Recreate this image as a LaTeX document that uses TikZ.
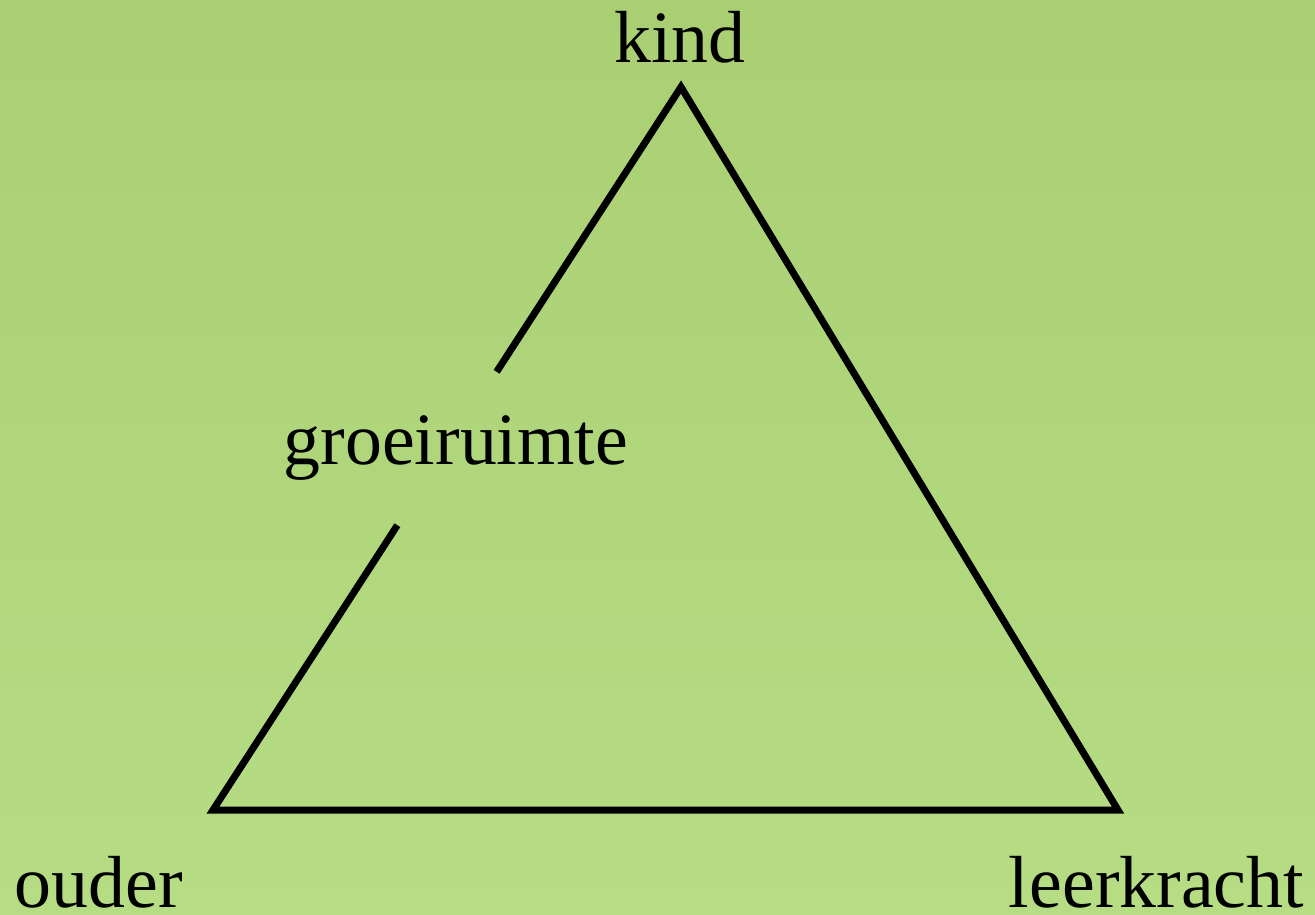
\documentclass[tikz,border=0pt]{standalone}
\usepackage{fontspec}
\setmainfont{Liberation Serif}
\usepackage{tikz}
\usetikzlibrary{positioning, calc}
\definecolor{bgtop}{HTML}{AACF73}
\definecolor{bgbottom}{HTML}{B6DD84}

\tikzset{
  edge/.style={draw=black, line width=2pt},
  role/.style={font=\fontsize{21}{25}\selectfont, inner sep=0pt, anchor=base},
  gap/.style={font=\fontsize{21}{25}\selectfont, inner sep=0pt, minimum height=1.52cm}
}

\begin{document}
\begin{tikzpicture}
% background
\shade[top color=bgtop, bottom color=bgbottom] (0,0) rectangle (13.15,-9.14);
\useasboundingbox (0,0) rectangle (13.15,-9.14);

% corners of the triangle
\coordinate (top)   at (6.81,-0.87);
\coordinate (right) at (11.18,-8.10);
\coordinate (left)  at (2.13,-8.10);

% labels
\node[role] (kind)       at (6.80,-0.62)  {kind};
\node[role] (ouder)      at (0.99,-9.07)  {ouder};
\node[role] (leerkracht) at (11.565,-9.07) {leerkracht};
\path (top) -- node[gap, pos=0.5] (groei) {\hspace*{0.18cm}groeiruimte} (left);

% triangle
\draw[edge] (groei) -- (top) -- (right) -- (left) -- (groei);
\end{tikzpicture}
\end{document}
